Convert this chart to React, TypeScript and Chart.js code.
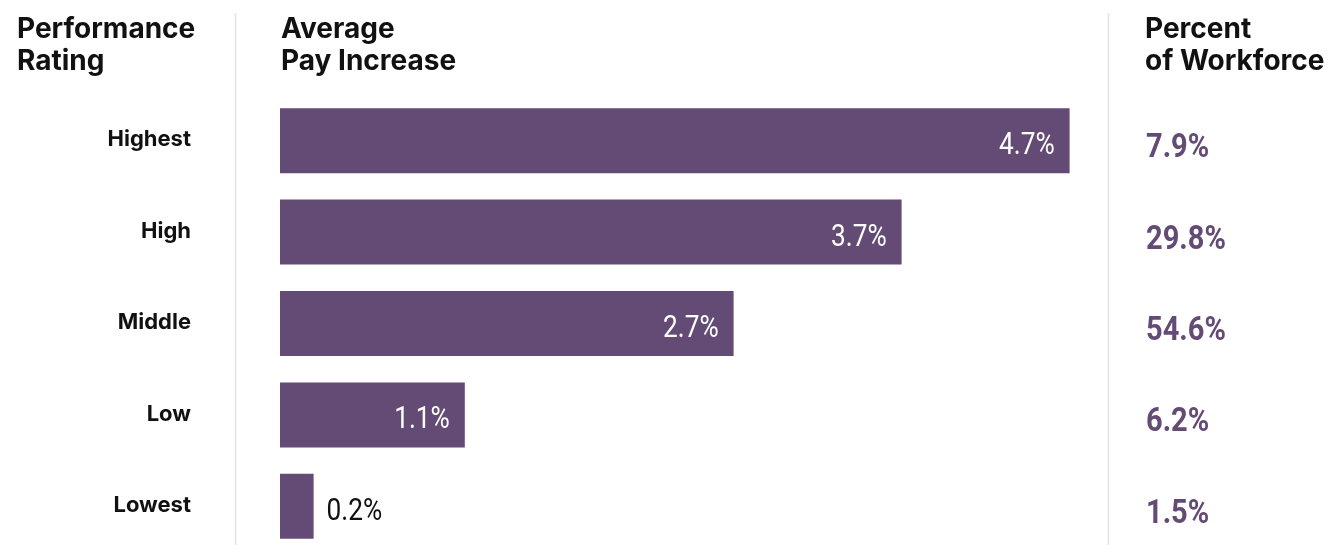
import React, { useEffect, useRef } from "react";
import { Chart, registerables } from "chart.js";

Chart.register(...registerables);

const categories = ["Highest", "High", "Middle", "Low", "Lowest"];
const payIncrease = [4.7, 3.7, 2.7, 1.1, 0.2];
const workforcePct = [7.9, 29.8, 54.6, 6.2, 1.5];
const headerLeft = ["Performance", "Rating"];
const headerMid = ["Average", "Pay Increase"];
const headerRight = ["Percent", "of Workforce"];

const BAR_COLOR = "#634B76";
const VALUE_COLOR = "#634B76";
const HEAD_FONT = "Inter, 'Open Sans', sans-serif";
const COND_FONT = "Roboto, 'DejaVu Sans', sans-serif";

function drawScaled(ctx: any, text: string, x: number, y: number, sx: number, align: string) {
  const w = ctx.measureText(text).width * sx;
  const left = align === "right" ? x - w : x;
  ctx.save();
  ctx.translate(left, y);
  ctx.scale(sx, 1);
  ctx.textAlign = "left";
  ctx.fillText(text, 0, 0);
  ctx.restore();
}

const overlay = {
  id: "overlay",
  afterDatasetsDraw(chart: any) {
    const ctx = chart.ctx;
    const meta = chart.getDatasetMeta(0);
    ctx.save();
    // dividers
    ctx.strokeStyle = "#e3e3e3";
    ctx.lineWidth = 1.5;
    [235.5, 1108.5].forEach((x) => {
      ctx.beginPath();
      ctx.moveTo(x, 13);
      ctx.lineTo(x, 560);
      ctx.stroke();
    });
    // headers
    ctx.fillStyle = "#111111";
    ctx.font = "700 28px " + HEAD_FONT;
    ctx.textAlign = "left";
    ctx.textBaseline = "alphabetic";
    const heads: [string[], number][] = [
      [headerLeft, 17],
      [headerMid, 281],
      [headerRight, 1145],
    ];
    heads.forEach(([lines, x]) => {
      lines.forEach((t, i) => ctx.fillText(t, x, 38 + i * 32));
    });
    // bar value labels
    ctx.font = "400 32px " + COND_FONT;
    ctx.textBaseline = "alphabetic";
    meta.data.forEach((bar: any, i: number) => {
      const label = payIncrease[i].toFixed(1) + "%";
      const w = bar.x - bar.base;
      if (w > 90) {
        ctx.fillStyle = "#ffffff";
        drawScaled(ctx, label, bar.x - 15, bar.y + 13.5, 0.82, "right");
      } else {
        ctx.fillStyle = "#111111";
        drawScaled(ctx, label, bar.x + 13, bar.y + 13.5, 0.82, "left");
      }
    });
    // workforce column
    ctx.font = "700 33px " + COND_FONT;
    ctx.fillStyle = VALUE_COLOR;
    meta.data.forEach((bar: any, i: number) => {
      drawScaled(ctx, workforcePct[i].toFixed(1) + "%", 1146, bar.y + 16.5, 0.88, "left");
    });
    ctx.restore();
  },
};

export default function App() {
  const ref = useRef<HTMLCanvasElement>(null);
  useEffect(() => {
    if (!ref.current) return;
    const chart = new Chart(ref.current, {
      type: "bar",
      data: {
        labels: categories,
        datasets: [
          {
            data: payIncrease,
            backgroundColor: BAR_COLOR,
            borderWidth: 0,
            barPercentage: 0.711,
            categoryPercentage: 1,
          },
        ],
      },
      options: {
        indexAxis: "y",
        animation: false,
        responsive: true,
        maintainAspectRatio: false,
        layout: { padding: { top: 95, bottom: 8, left: 0, right: 218 } },
        plugins: { legend: { display: false }, tooltip: { enabled: false } },
        scales: {
          x: { display: false, min: 0, max: 5 },
          y: {
            offset: true,
            grid: { display: false, drawTicks: false },
            border: { display: false },
            ticks: {
              padding: 89,
              labelOffset: -1,
              color: "#111111",
              font: { family: HEAD_FONT, weight: "700", size: 22 },
            },
            afterFit(scale: any) {
              scale.width = 280;
              scale.paddingTop = 0;
              scale.paddingBottom = 0;
            },
          },
        },
      },
      plugins: [overlay],
    });
    return () => chart.destroy();
  }, []);
  return (
    <div
      style={{
        position: "fixed",
        left: 0,
        top: 0,
        width: 1338,
        height: 545,
        overflow: "hidden",
        background: "#ffffff",
      }}
    >
      <div style={{ position: "relative", width: 1338, height: 560 }}>
        <canvas ref={ref} />
      </div>
    </div>
  );
}
